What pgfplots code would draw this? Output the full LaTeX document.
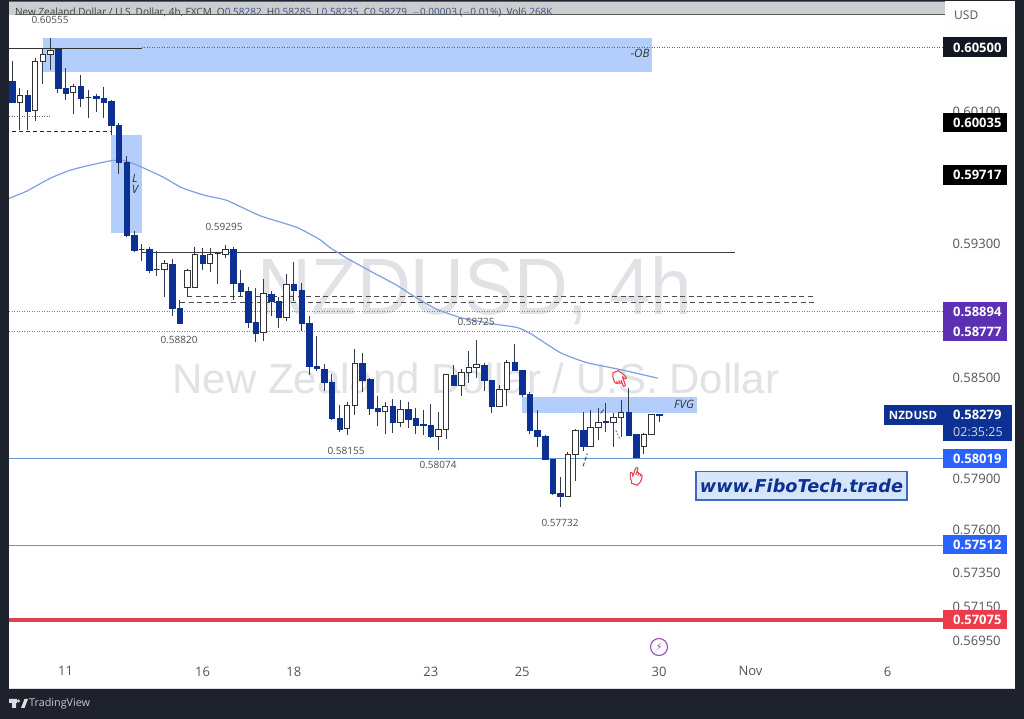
\documentclass[border=0pt]{standalone}
\usepackage{fontspec}
\setmainfont{Open Sans}
\newfontfamily\wmfont{Liberation Sans}
\newfontfamily\emojifont{Noto Emoji}[FakeBold=1.5]
\newfontfamily\symfont{DejaVu Sans}
\usepackage{pgfplots}
\usepackage{pgfplotstable}
\pgfplotsset{compat=1.18}

\definecolor{frame}{HTML}{1E222D}
\definecolor{band}{HTML}{CBCDD0}
\definecolor{axtxt}{HTML}{50535E}
\definecolor{candle}{HTML}{0D3192}
\definecolor{wickc}{HTML}{333A4D}
\definecolor{zone}{HTML}{B3CEFA}
\definecolor{emac}{HTML}{7F9FE0}
\definecolor{lvl}{HTML}{6A94CC}
\definecolor{redl}{HTML}{E23F4F}
\definecolor{tagblue}{HTML}{2962FF}
\definecolor{tagpurple}{HTML}{5C30B5}
\definecolor{tagred}{HTML}{EE3B4A}
\definecolor{tagdark}{HTML}{131722}
\definecolor{wmark}{HTML}{E0E2E5}
\definecolor{hdrblue}{HTML}{3C4F80}
\definecolor{brandfill}{HTML}{D5E5FA}
\definecolor{brandline}{HTML}{3F68C0}
\definecolor{bolt}{HTML}{9B4DB5}

% i open high low close
\pgfplotstableread{
i open high low close
0 0.60293 0.60416 0.60157 0.60161
1 0.60161 0.60252 0.59991 0.60207
2 0.60207 0.60236 0.59991 0.60113
3 0.60113 0.60437 0.60048 0.60412
4 0.60412 0.60494 0.60277 0.60457
5 0.60457 0.60555 0.60363 0.60482
6 0.60486 0.60490 0.60222 0.60248
7 0.60250 0.60373 0.60175 0.60222
8 0.60222 0.60273 0.60089 0.60261
9 0.60261 0.60330 0.60134 0.60191
10 0.60195 0.60236 0.60069 0.60195
11 0.60199 0.60216 0.60103 0.60185
12 0.60188 0.60256 0.60069 0.60164
13 0.60169 0.60179 0.59961 0.60022
14 0.60026 0.60036 0.59727 0.59800
15 0.59800 0.59833 0.59343 0.59354
16 0.59354 0.59379 0.59253 0.59263
17 0.59267 0.59299 0.59198 0.59267
18 0.59271 0.59283 0.59126 0.59143
19 0.59147 0.59259 0.59107 0.59147
20 0.59147 0.59203 0.58982 0.59183
21 0.59183 0.59213 0.58872 0.58918
22 0.58918 0.58966 0.58820 0.58826
23 0.59042 0.59153 0.58982 0.59143
24 0.59042 0.59287 0.59042 0.59235
25 0.59235 0.59279 0.59147 0.59187
26 0.59187 0.59279 0.59132 0.59239
27 0.59243 0.59247 0.59062 0.59243
28 0.59235 0.59295 0.59219 0.59267
29 0.59271 0.59287 0.58966 0.59068
30 0.59068 0.59143 0.58992 0.59016
31 0.59016 0.59048 0.58798 0.58832
32 0.58832 0.59038 0.58712 0.58766
33 0.58766 0.59092 0.58718 0.59002
34 0.59002 0.59018 0.58872 0.58954
35 0.58956 0.58982 0.58798 0.58858
36 0.58858 0.59118 0.58838 0.59058
37 0.59058 0.59195 0.58962 0.59022
38 0.59022 0.59066 0.58778 0.58826
39 0.58826 0.58872 0.58514 0.58567
40 0.58567 0.58747 0.58539 0.58554
41 0.58551 0.58579 0.58420 0.58474
42 0.58474 0.58524 0.58247 0.58257
43 0.58260 0.58335 0.58177 0.58197
44 0.58197 0.58355 0.58158 0.58334
45 0.58334 0.58667 0.58282 0.58584
46 0.58584 0.58649 0.58414 0.58484
47 0.58488 0.58500 0.58280 0.58316
48 0.58316 0.58395 0.58213 0.58300
49 0.58300 0.58355 0.58168 0.58328
50 0.58328 0.58375 0.58171 0.58236
51 0.58234 0.58365 0.58211 0.58310
52 0.58310 0.58359 0.58203 0.58252
53 0.58257 0.58316 0.58167 0.58223
54 0.58227 0.58310 0.58158 0.58213
55 0.58215 0.58340 0.58144 0.58152
56 0.58152 0.58296 0.58074 0.58193
57 0.58193 0.58518 0.58138 0.58518
58 0.58516 0.58577 0.58453 0.58453
59 0.58453 0.58550 0.58389 0.58533
60 0.58530 0.58657 0.58468 0.58560
61 0.58560 0.58725 0.58500 0.58578
62 0.58578 0.58584 0.58420 0.58484
63 0.58484 0.58488 0.58290 0.58330
64 0.58330 0.58456 0.58330 0.58432
65 0.58432 0.58603 0.58330 0.58593
66 0.58593 0.58698 0.58539 0.58544
67 0.58544 0.58548 0.58385 0.58401
68 0.58403 0.58415 0.58168 0.58187
69 0.58191 0.58306 0.58087 0.58152
70 0.58153 0.58164 0.58014 0.58016
71 0.58016 0.58020 0.57804 0.57819
72 0.57819 0.57911 0.57732 0.57799
73 0.57799 0.58063 0.57799 0.58043
74 0.58043 0.58197 0.57886 0.58187
75 0.58187 0.58296 0.58069 0.58089
76 0.58089 0.58310 0.58085 0.58201
77 0.58201 0.58316 0.58132 0.58235
78 0.58243 0.58347 0.58181 0.58238
79 0.58235 0.58288 0.58087 0.58263
80 0.58263 0.58365 0.58148 0.58296
81 0.58296 0.58438 0.58158 0.58158
82 0.58164 0.58164 0.58030 0.58030
83 0.58093 0.58172 0.58045 0.58164
84 0.58164 0.58282 0.58164 0.58280
85 0.58282 0.58285 0.58235 0.58279
}\candles

\begin{document}
\begin{tikzpicture}
\begin{scope}[x=1pt,y=-1pt,yshift=719pt]
  \useasboundingbox (0,0) rectangle (1024,719);
  \fill[frame] (0,0) rectangle (1024,719);
  \fill[white] (9,1) rectangle (1015,688);
  \fill[band] (9,1) rectangle (945,15);
  \node[wmark,font=\wmfont\fontsize{80}{80}\selectfont,xscale=.93] at (475,291) {NZDUSD, 4h};
  \node[wmark,font=\wmfont\fontsize{42}{42}\selectfont] at (476,378) {New Zealand Dollar / U.S. Dollar};
\end{scope}

\begin{axis}[
  at={(9pt,59pt)}, anchor=south west,
  scale only axis, width=936pt, height=645pt,
  xmin=-0.434, xmax=122.56,
  ymode=log, ymin=0.56843, ymax=0.60697,
  axis line style={draw=none},
  major tick length=0pt,
  minor tick num=0,
  xtick={7,25,37,55,67,85,97,115},
  xticklabels={11,16,18,23,25,30,Nov,6},
  ytick={0.60100,0.59300,0.58500,0.57900,0.57600,0.57350,0.57150,0.56950},
  yticklabels={0.60100,0.59300,0.58500,0.57900,0.57600,0.57350,0.57150,0.56950},
  yticklabel pos=right,
  ticklabel style={text=axtxt,font=\fontsize{13}{15}\selectfont},
  xticklabel style={yshift=-3pt},
  yticklabel style={anchor=west,xshift=4pt},
]
% zones
\addplot[fill=zone,draw=none,forget plot] coordinates {(4.03,0.60556)(84.0,0.60556)(84.0,0.60346)(4.03,0.60346)} --cycle;
\addplot[fill=zone,draw=none,forget plot] coordinates {(12.97,0.59961)(17.04,0.59961)(17.04,0.59366)(12.97,0.59366)} --cycle;
\addplot[fill=zone,draw=none,forget plot] coordinates {(66.97,0.58383)(89.97,0.58383)(89.97,0.58288)(66.97,0.58288)} --cycle;
% levels
\addplot[black!80,line width=1pt,forget plot] coordinates {(-0.43,0.60494)(17.04,0.60494)};
\addplot[black!60,line width=.7pt,dash pattern=on 1pt off 1.5pt,forget plot] coordinates {(17.04,0.60500)(122.56,0.60500)};
\addplot[black!60,line width=.7pt,dash pattern=on 1pt off 1.5pt,forget plot] coordinates {(-0.43,0.60077)(4.95,0.60077)};
\addplot[black!85,line width=.8pt,dash pattern=on 4pt off 3pt,forget plot] coordinates {(0,0.59985)(13.1,0.59985)};
\addplot[black!75,line width=1pt,forget plot] coordinates {(17.04,0.59251)(95.0,0.59251)};
\addplot[black!70,line width=.9pt,dash pattern=on 5pt off 3.5pt,forget plot] coordinates {(22.96,0.58988)(105.5,0.58988)};
\addplot[black!70,line width=.9pt,dash pattern=on 5pt off 3.5pt,forget plot] coordinates {(22.04,0.58951)(105.5,0.58951)};
\addplot[black!50,line width=.7pt,dash pattern=on 1pt off 1.5pt,forget plot] coordinates {(-0.43,0.58894)(122.56,0.58894)};
\addplot[black!50,line width=.7pt,dash pattern=on 1pt off 1.5pt,forget plot] coordinates {(-0.43,0.58777)(122.56,0.58777)};
\addplot[lvl,line width=1pt,forget plot] coordinates {(-0.43,0.58019)(122.56,0.58019)};
\addplot[lvl,line width=1pt,forget plot] coordinates {(-0.43,0.57512)(122.56,0.57512)};
\addplot[redl,line width=3.4pt,forget plot] coordinates {(-0.43,0.57075)(122.56,0.57075)};
% moving average
\addplot[emac,line width=1.2pt,smooth,tension=.3,forget plot] coordinates {
(-0.43,0.59577)(1.93,0.59620)(4.95,0.59699)(7.58,0.59748)(10.2,0.59778)(13.1,0.59808)
(14.8,0.59808)(17.0,0.59766)(19.8,0.59705)(22.3,0.59644)(25.3,0.59596)(28.2,0.59565)
(32.5,0.59475)(37.4,0.59402)(40.4,0.59329)(41.7,0.59281)(44.0,0.59215)(47.4,0.59130)
(50.5,0.59052)(53.2,0.58974)(55.8,0.58908)(59.2,0.58854)(63.7,0.58818)(66.3,0.58800)
(68.1,0.58764)(72,0.58651)(75.5,0.58591)(79.8,0.58549)(84.8,0.58496)};
% small strokes
\addplot[black!75,line width=.9pt,dash pattern=on 4pt off 2pt,forget plot] coordinates {(75.0,0.57974)(75.55,0.58051)};
\addplot[black!75,line width=.8pt,forget plot] coordinates {(77.3,0.58286)(77.7,0.58310)};
\addplot[black!60,line width=.8pt,dash pattern=on 2pt off 1.5pt,forget plot] coordinates {(79.3,0.58185)(79.9,0.58130)};
% candles
\pgfplotsforeachungrouped \r in {0,...,85}{
  \pgfplotstablegetelem{\r}{i}\of\candles \let\cI\pgfplotsretval
  \pgfplotstablegetelem{\r}{open}\of\candles \let\cO\pgfplotsretval
  \pgfplotstablegetelem{\r}{high}\of\candles \let\cH\pgfplotsretval
  \pgfplotstablegetelem{\r}{low}\of\candles \let\cL\pgfplotsretval
  \pgfplotstablegetelem{\r}{close}\of\candles \let\cC\pgfplotsretval
  \pgfmathsetmacro\xa{\cI-0.36}
  \pgfmathsetmacro\xb{\cI+0.36}
  \ifdim\cO pt>\cC pt
    \def\bodystyle{fill=candle,draw=candle,line width=.4pt}
  \else
    \def\bodystyle{fill=white,draw=black!80,line width=.9pt}
  \fi
  \edef\tmp{\noexpand\addplot[wickc,line width=1pt,forget plot] coordinates {(\cI,\cH)(\cI,\cL)};
    \noexpand\addplot[\bodystyle,forget plot] coordinates {(\xa,\cO)(\xb,\cO)(\xb,\cC)(\xa,\cC)} --cycle;}
  \tmp
}
\end{axis}

\begin{scope}[x=1pt,y=-1pt,yshift=719pt,
  lab/.style={text=black!70,font=\fontsize{10}{12}\selectfont,inner sep=0pt},
  tagt/.style={text=white,font=\fontsize{13}{15}\selectfont\bfseries,inner sep=0pt,anchor=west},
  note/.style={text=black!80,font=\fontsize{11.5}{13}\selectfont\itshape,inner sep=0pt}]
  % header
  \node[anchor=west,inner sep=0pt,text=black!75,font=\fontsize{10}{12}\selectfont] at (15,13)
    {New Zealand Dollar / U.S. Dollar, 4h, FXCM\ \ O\textcolor{hdrblue}{0.58282}\ \ H\textcolor{hdrblue}{0.58285}\ \ L\textcolor{hdrblue}{0.58235}\ \ C\textcolor{hdrblue}{0.58279}\ \ \textcolor{hdrblue}{$-$0.00003 ($-$0.01\%)}\ \ Vol\textcolor{hdrblue}{6.268K}};
  \draw[black!65,line width=1pt] (15,15) -- (945,15);
  \draw[frame!70,line width=.8pt] (9,1) -- (945,1);
  % USD
  \draw[black!6,fill=white,rounded corners=2pt] (947,3) rectangle (1012,26);
  \node[text=axtxt,font=\fontsize{12}{14}\selectfont,anchor=west,inner sep=0pt] at (954,15) {USD};
  % annotations
  \node[lab] at (50,20) {0.60555};
  \node[lab] at (224,227) {0.59295};
  \node[lab] at (179,340) {0.58820};
  \node[lab] at (476,322) {0.58725};
  \node[lab] at (346,451) {0.58155};
  \node[lab] at (438,465) {0.58074};
  \node[lab] at (560,523) {0.57732};
  \node[note] at (640,53) {-OB};
  \node[note] at (135,178) {L};
  \node[note] at (135,189) {V};
  \node[note] at (684,404) {FVG};
  % hands
  \node[text=redl,font=\emojifont\fontsize{17}{17}\selectfont,inner sep=0pt,rotate=20] at (620,379) {^^^^^^01f447};
  \node[text=redl,font=\emojifont\fontsize{17}{17}\selectfont,inner sep=0pt,rotate=-20] at (636,476) {^^^^^^01f446};
  % lightning
  \draw[draw=bolt,line width=1.1pt] (659,647) circle (8.5);
  \node[text=bolt,font=\symfont\fontsize{10}{10}\selectfont,inner sep=0pt] at (659,647) {^^^^26a1};
  % brand box
  \filldraw[draw=brandline,fill=brandfill,line width=1.3pt] (696,471.5) rectangle (907,500);
  \node[text=candle,font=\symfont\fontsize{17.7}{20}\selectfont\bfseries\itshape,inner sep=0pt] at (801.5,486) {www.FiboTech.trade};
  % price tags
  \fill[tagdark] (943,37.5) rectangle (1007,57);
  \node[tagt] at (953,47.5) {0.60500};
  \fill[black] (943,113) rectangle (1007,132.5);
  \node[tagt] at (953,123) {0.60035};
  \fill[black] (943,165) rectangle (1007,185);
  \node[tagt] at (953,175) {0.59717};
  \fill[tagpurple] (943,302) rectangle (1007,341);
  \node[tagt] at (953,311.5) {0.58894};
  \node[tagt] at (953,331.5) {0.58777};
  \fill[candle] (883.5,405.5) rectangle (943,425);
  \node[text=white,font=\fontsize{11.5}{14}\selectfont\bfseries,inner sep=0pt] at (913,415) {NZDUSD};
  \fill[candle] (943,405.5) rectangle (1012,441);
  \node[tagt] at (953,415) {0.58279};
  \node[tagt,text=white!80!candle,font=\fontsize{12.5}{14}\selectfont] at (953,432) {02:35:25};
  \fill[tagblue] (943,449) rectangle (1007,468.5);
  \node[tagt] at (953,459) {0.58019};
  \fill[tagblue] (943,535) rectangle (1007,554.5);
  \node[tagt] at (953,545) {0.57512};
  \fill[tagred] (943,610) rectangle (1007,629.5);
  \node[tagt] at (953,620) {0.57075};
  % footer
  \fill[white!85!frame] (9,688) rectangle (1015,688.8);
  \fill[white!85!frame] (9,699) rectangle (17,703) (12,703) rectangle (16,708);
  \fill[white!85!frame] (18.5,701) circle (1.6);
  \fill[white!85!frame] (21,708) -- (24.5,699) -- (28,699) -- (24.5,708) -- cycle;
  \node[anchor=west,inner sep=0pt,text=white!75!frame,font=\fontsize{10.8}{13}\selectfont] at (29,704) {TradingView};
\end{scope}
\end{tikzpicture}
\end{document}
